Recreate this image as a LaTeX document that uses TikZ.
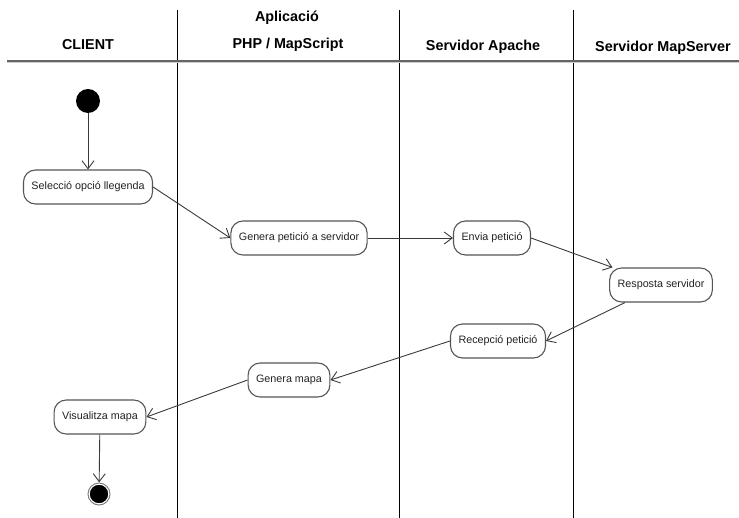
\documentclass[tikz,border=0pt]{standalone}
\usepackage{fontspec}
\setmainfont{Liberation Sans}
\usetikzlibrary{arrows.meta}
\definecolor{edgegray}{HTML}{3A3A3A}
\definecolor{boxgray}{HTML}{555555}
\definecolor{txtgray}{HTML}{222222}
\begin{document}
\begin{tikzpicture}[x=1bp,y=-1bp,
  lane/.style={line width=1bp,black},
  header/.style={font=\bfseries\fontsize{14.4}{17}\selectfont,text=black,inner sep=0pt},
  activity/.style={draw=boxgray,line width=1.1bp,fill=white,rounded corners=12bp,
    minimum height=34bp,inner xsep=8bp,text=txtgray,font=\fontsize{10.8}{13}\selectfont},
  flow/.style={draw=edgegray,line width=0.9bp,-{Straight Barb[length=8bp,width=12bp,line width=0.9bp]}},
  startnode/.style={circle,fill=black,minimum size=24bp,inner sep=0pt},
  endnode/.style={circle,fill=black,draw=white,double=gray,double distance=1bp,line width=1.2bp,minimum size=22bp,inner sep=0pt}]
\useasboundingbox (0,0) rectangle (739,518);

% swimlane separators and header rule
\draw[lane] (177,10) -- (177,518);
\draw[lane] (399,10) -- (399,518);
\draw[lane] (573,10) -- (573,518);
\draw[gray!80!black,line width=1.6bp] (7,61) -- (739,61);
\draw[gray!40,line width=0.8bp] (7,62.6) -- (739,62.6);

% lane titles
\node[header] (hclient) at (88,45) {CLIENT};
\node[header] (happ1) at (287,18) {Aplicació};
\node[header] (happ2) at (288,45) {PHP / MapScript};
\node[header] (hapache) at (483,47) {Servidor Apache};
\node[header,anchor=west] (hmap) at (595,48) {Servidor MapServer};

% activities
\node[startnode] (start) at (88,101) {};
\node[activity] (sel) at (88,187) {Selecció opció llegenda};
\node[activity] (gen) at (299,238) {Genera petició a servidor};
\node[activity] (env) at (492,238) {Envia petició};
\node[activity] (resp) at (661,285) {Resposta servidor};
\node[activity] (rec) at (498,341) {Recepció petició};
\node[activity] (genm) at (289,380) {Genera mapa};
\node[activity] (vis) at (100,417) {Visualitza mapa};
\node[endnode] (stop) at (99,494) {};

% control flow
\draw[flow] (start) -- (sel);
\draw[flow] (sel.east) -- (gen.west);
\draw[flow] (gen.east) -- (env.west);
\draw[flow] (env.east) -- (resp);
\draw[flow] (resp) -- (rec.east);
\draw[flow] (rec.west) -- (genm.east);
\draw[flow] (genm.west) -- (vis.east);
\draw[flow] (vis) -- (stop);
\end{tikzpicture}
\end{document}
